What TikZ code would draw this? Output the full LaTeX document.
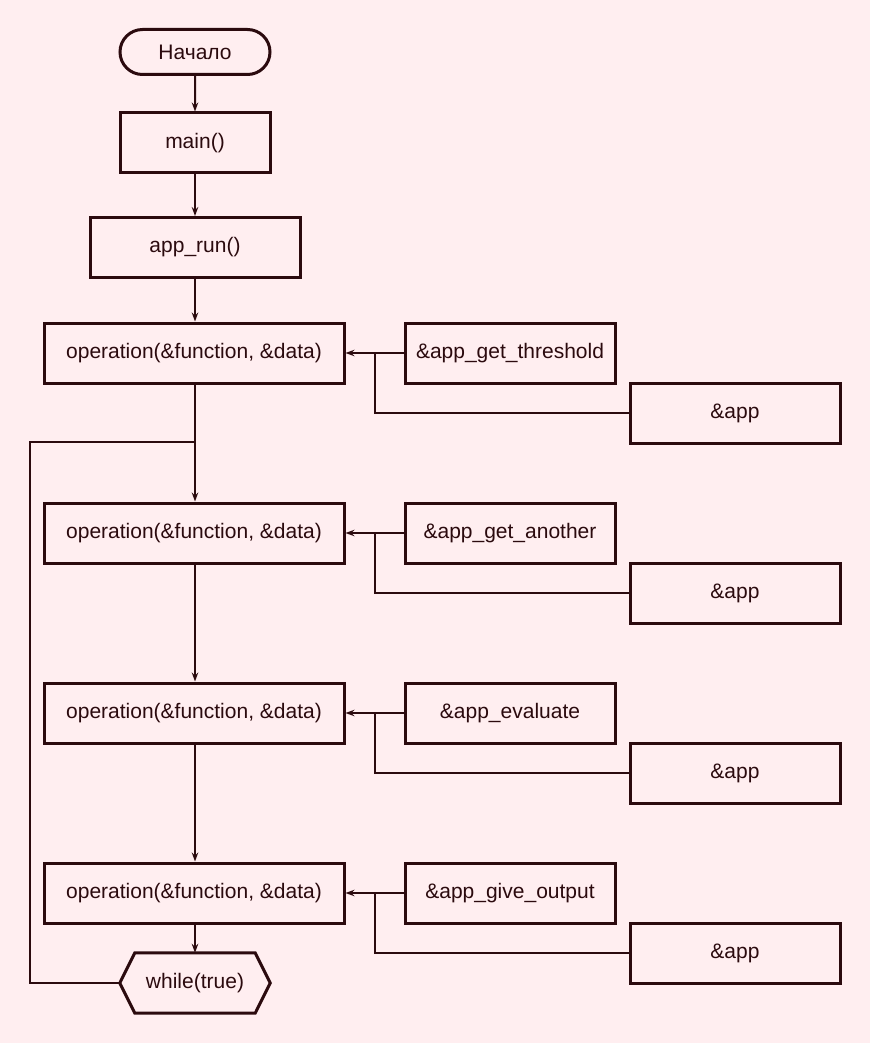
\documentclass[tikz,border=0pt]{standalone}
\usepackage{fontspec}
\setmainfont{Liberation Sans}
\usetikzlibrary{arrows.meta,shapes.misc}
\definecolor{bg}{HTML}{FFEEF0}
\definecolor{ink}{HTML}{2B0A0E}
\begin{document}
\begin{tikzpicture}[x=1pt,y=-1pt,
  font=\fontsize{21}{25}\selectfont,
  every node/.style={text=ink},
  box/.style={draw=ink,line width=3pt,rectangle,minimum height=60pt,inner sep=0pt},
  term/.style={draw=ink,line width=3pt,rounded rectangle,minimum width=150pt,minimum height=45pt,inner sep=0pt},
  link/.style={draw=ink,line width=2pt},
  arr/.style={link,-{Stealth[length=9pt,width=6.5pt]}}]
\fill[bg] (0,0) rectangle (870,1043);
\useasboundingbox (0,0) rectangle (870,1043);

% main column
\node[term] (start) at (195,52) {Начало};
\node[box,minimum width=150pt] (main) at (195,143) {main()};
\node[box,minimum width=210pt] (run) at (195,247.5) {app\_run()};
\node[box,minimum width=300pt] (op1) at (194,353) {operation(\&function, \&data)};
\node[box,minimum width=300pt] (op2) at (194,533) {operation(\&function, \&data)};
\node[box,minimum width=300pt] (op3) at (194,713) {operation(\&function, \&data)};
\node[box,minimum width=300pt] (op4) at (194,893) {operation(\&function, \&data)};

% loop condition (hexagon drawn around an invisible node)
\node[minimum width=150pt,minimum height=60pt,inner sep=0pt] (wt) at (195,983) {while(true)};
\draw[ink,line width=3pt,line join=miter]
  (wt.west) -- ([xshift=15pt]wt.north west) -- ([xshift=-15pt]wt.north east)
  -- (wt.east) -- ([xshift=-15pt]wt.south east) -- ([xshift=15pt]wt.south west) -- cycle;

% function pointers and data arguments
\node[box,minimum width=210pt] (f1) at (510,353) {\&app\_get\_threshold};
\node[box,minimum width=210pt] (d1) at (735,413) {\&app};
\node[box,minimum width=210pt] (f2) at (510,533) {\&app\_get\_another};
\node[box,minimum width=210pt] (d2) at (735,593) {\&app};
\node[box,minimum width=210pt] (f3) at (510,713) {\&app\_evaluate};
\node[box,minimum width=210pt] (d3) at (735,773) {\&app};
\node[box,minimum width=210pt] (f4) at (510,893) {\&app\_give\_output};
\node[box,minimum width=210pt] (d4) at (735,953) {\&app};

% junction points
\coordinate (j1) at (375,353);
\coordinate (j2) at (375,533);
\coordinate (j3) at (375,713);
\coordinate (j4) at (375,893);
\coordinate (loop) at (195,442);
\coordinate (lx) at (30,0);

% main flow
\draw[arr] (start) -- (main);
\draw[arr] (main) -- (run);
\draw[arr] (run.south) -- (run.south |- op1.north);
\draw[arr] (op1.south -| loop) -- (op2.north -| loop);
\draw[arr] (op2.south -| loop) -- (op3.north -| loop);
\draw[arr] (op3.south -| loop) -- (op4.north -| loop);
\draw[arr] (op4.south -| loop) -- (wt.north);

% back edge of the loop
\draw[link] (wt.west) -- (wt.west -| lx) -- (lx |- loop) -- (loop);

% arguments into each call
\foreach \i in {1,2,3,4}{
  \draw[arr] (f\i.west) -- (op\i.east);
  \draw[link] (d\i.west) -| (j\i);
}
\end{tikzpicture}
\end{document}
